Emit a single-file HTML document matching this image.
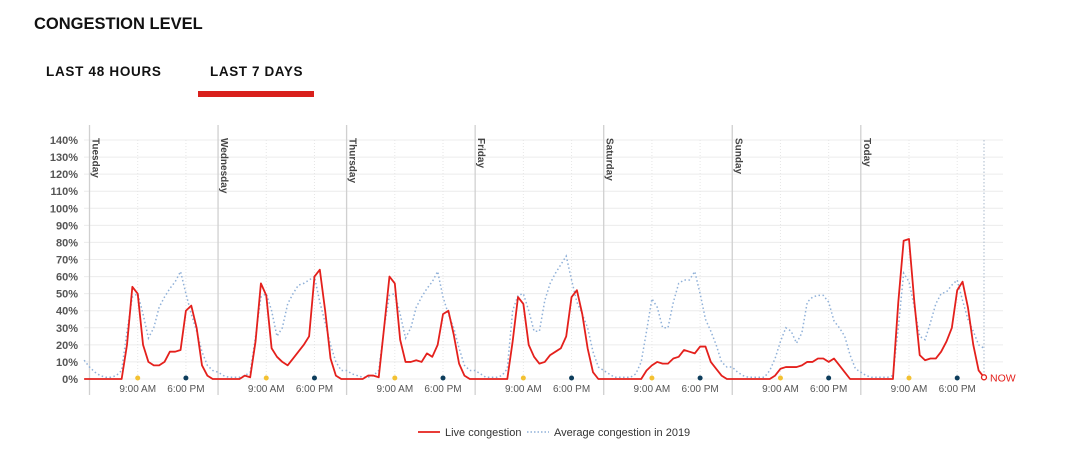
<!DOCTYPE html>
<html><head><meta charset="utf-8">
<style>
body{margin:0;width:1070px;height:450px;background:#fff;font-family:"Liberation Sans",sans-serif;overflow:hidden;position:relative}
.t{position:absolute;font-weight:bold;color:#111;white-space:nowrap}
</style></head><body>
<div class="t" style="left:34px;top:15px;font-size:16.5px">CONGESTION LEVEL</div>
<div class="t" style="left:46px;top:64px;font-size:13.5px;letter-spacing:0.7px">LAST 48 HOURS</div>
<div class="t" style="left:210px;top:64px;font-size:13.5px;letter-spacing:0.6px">LAST 7 DAYS</div>
<div style="position:absolute;left:198px;top:91px;width:116px;height:6px;background:#d9201c"></div>
<svg id="chart" width="1070" height="450" style="position:absolute;left:0;top:0"></svg>
<script>
const days=["Tuesday","Wednesday","Thursday","Friday","Saturday","Sunday","Today"];
const yTicks=[0,10,20,30,40,50,60,70,80,90,100,110,120,130,140];
const xTickLabels=["9:00 AM","6:00 PM"];
const liveStart=[0];
const liveTue=[0,0,0,0,0,0,0,20,54,50,20,10,8,8,10,16,16,17,40,43,30,8,2,0];
const liveWed=[0,0,0,0,0,2,1,22,56,49,18,13,10,8,12,16,20,25,60,64,40,12,2,0];
const liveThu=[0,0,0,0,2,2,1,30,60,56,23,10,10,11,10,15,13,20,38,40,26,9,2,0];
const liveFri=[0,0,0,0,0,0,0,22,48,44,20,13,9,10,14,16,18,25,48,52,38,18,4,0];
const liveSat=[0,0,0,0,0,0,0,0,5,8,10,9,9,12,13,17,16,15,19,19,10,6,2,0];
const liveSun=[0,0,0,0,0,0,0,0,2,6,7,7,7,8,10,10,12,12,10,12,8,4,0,0];
const liveToday=[0,0,0,0,0,0,0,45,81,82,45,14,11,12,12,16,22,30,52,57,42,20,5,1];
const avgStart=[11];
const avgTue=[7,4,2,1,1,2,5,28,48,50,38,24,30,42,48,53,57,63,50,38,28,16,8,5];
const avgWed=[4,2,1,1,1,2,4,25,48,50,40,25,30,44,50,55,56,58,60,45,33,20,10,5];
const avgThu=[5,3,2,1,1,2,5,30,49,50,38,24,30,42,48,53,57,63,48,38,30,18,8,5];
const avgFri=[5,3,1,1,1,2,6,40,49,50,40,28,28,46,56,62,67,72,58,45,38,30,16,7];
const avgSat=[5,3,1,1,1,1,3,10,28,47,42,30,30,45,56,58,58,63,50,35,28,20,10,7];
const avgSun=[7,4,2,1,1,1,1,5,12,22,30,28,21,27,45,48,49,49,45,34,30,25,14,6];
const avgToday=[4,2,1,1,1,1,2,30,62,57,42,25,23,33,44,50,51,55,58,46,35,28,20,18];

const live=[].concat(liveStart,liveTue,liveWed,liveThu,liveFri,liveSat,liveSun,liveToday);
const avg=[].concat(avgStart,avgTue,avgWed,avgThu,avgFri,avgSat,avgSun,avgToday);

const NS="http://www.w3.org/2000/svg";
const svg=document.getElementById('chart');
const x0=89.5, hourW=128.55/24, y0=379, yTop=140, yMax=140;
const X=i=>x0+(i-1)*hourW;
const Y=v=>y0-(v/yMax)*(y0-yTop);
const xRight=1003;
function mk(tag,attrs,parent){const e=document.createElementNS(NS,tag);for(const k in attrs)e.setAttribute(k,attrs[k]);(parent||svg).appendChild(e);return e;}

yTicks.forEach(v=>{
  const g=mk('line',{x1:84,x2:xRight,y1:Y(v),y2:Y(v),stroke:'#ececec','stroke-width':1});
  
  
  const t=mk('text',{x:78,y:Y(v)+4,'text-anchor':'end','font-size':11,'font-weight':'bold',fill:'#555','font-family':'Liberation Sans, sans-serif'});
  t.textContent=v+'%';
  
  
});
days.forEach((d,k)=>{
  const dx=x0+k*24*hourW;
  const l=mk('line',{x1:dx,x2:dx,y1:125,y2:395,stroke:'#d0d0d0','stroke-width':1.3});
  
  
  const t=mk('text',{x:dx+3,y:138,'font-size':10,'font-weight':'bold',fill:'#444','font-family':'Liberation Sans, sans-serif',transform:`rotate(90 ${dx+3} 138)`});
  t.textContent=d;
  
  
  [9,18].forEach((h,j)=>{
    const hx=dx+h*hourW;
    const vl=mk('line',{x1:hx,x2:hx,y1:140,y2:379,stroke:'#e6e6e6','stroke-width':1,'stroke-dasharray':'1,2'});
    
    
    const c=mk('circle',{cx:hx,cy:378,r:2.5,fill:j?'#0d3d5c':'#f3c132'});
    
    
    const tl=mk('text',{x:hx,y:392,'text-anchor':'middle','font-size':10,fill:'#555','font-family':'Liberation Sans, sans-serif'});
    tl.textContent=xTickLabels[j];
    
    
  });
});
const nowX=X(live.length-1);
const nl=mk('line',{x1:nowX,x2:nowX,y1:140,y2:379,stroke:'#a9b9cc','stroke-width':1,'stroke-dasharray':'1.5,2'});


const ap=mk('polyline',{points:avg.map((v,i)=>X(i)+','+Y(v)).join(' '),fill:'none',stroke:'#8fb0d8','stroke-width':1.5,'stroke-dasharray':'1.5,2.5'});


const lp=mk('polyline',{points:live.map((v,i)=>X(i)+','+Y(v)).join(' '),fill:'none',stroke:'#e4201c','stroke-width':1.8,'stroke-linejoin':'round'});


const nc=mk('circle',{cx:nowX,cy:Y(live[live.length-1]),r:2.5,fill:'#fff',stroke:'#e4201c','stroke-width':1.3});


const nt=mk('text',{x:nowX+6,y:Y(live[live.length-1])+4,'font-size':10.5,fill:'#e4201c','font-family':'Liberation Sans, sans-serif'});
nt.textContent='NOW';


const l1=mk('line',{x1:418,x2:440,y1:432,y2:432,stroke:'#e4201c','stroke-width':1.8});


const lt1=mk('text',{x:445,y:436,'font-size':11,fill:'#333','font-family':'Liberation Sans, sans-serif'});
lt1.textContent='Live congestion';


const l2=mk('line',{x1:527,x2:549,y1:432,y2:432,stroke:'#8fb0d8','stroke-width':1.5,'stroke-dasharray':'1.5,2'});


const lt2=mk('text',{x:554,y:436,'font-size':11,fill:'#333','font-family':'Liberation Sans, sans-serif'});
lt2.textContent='Average congestion in 2019';


</script>
</body></html>
